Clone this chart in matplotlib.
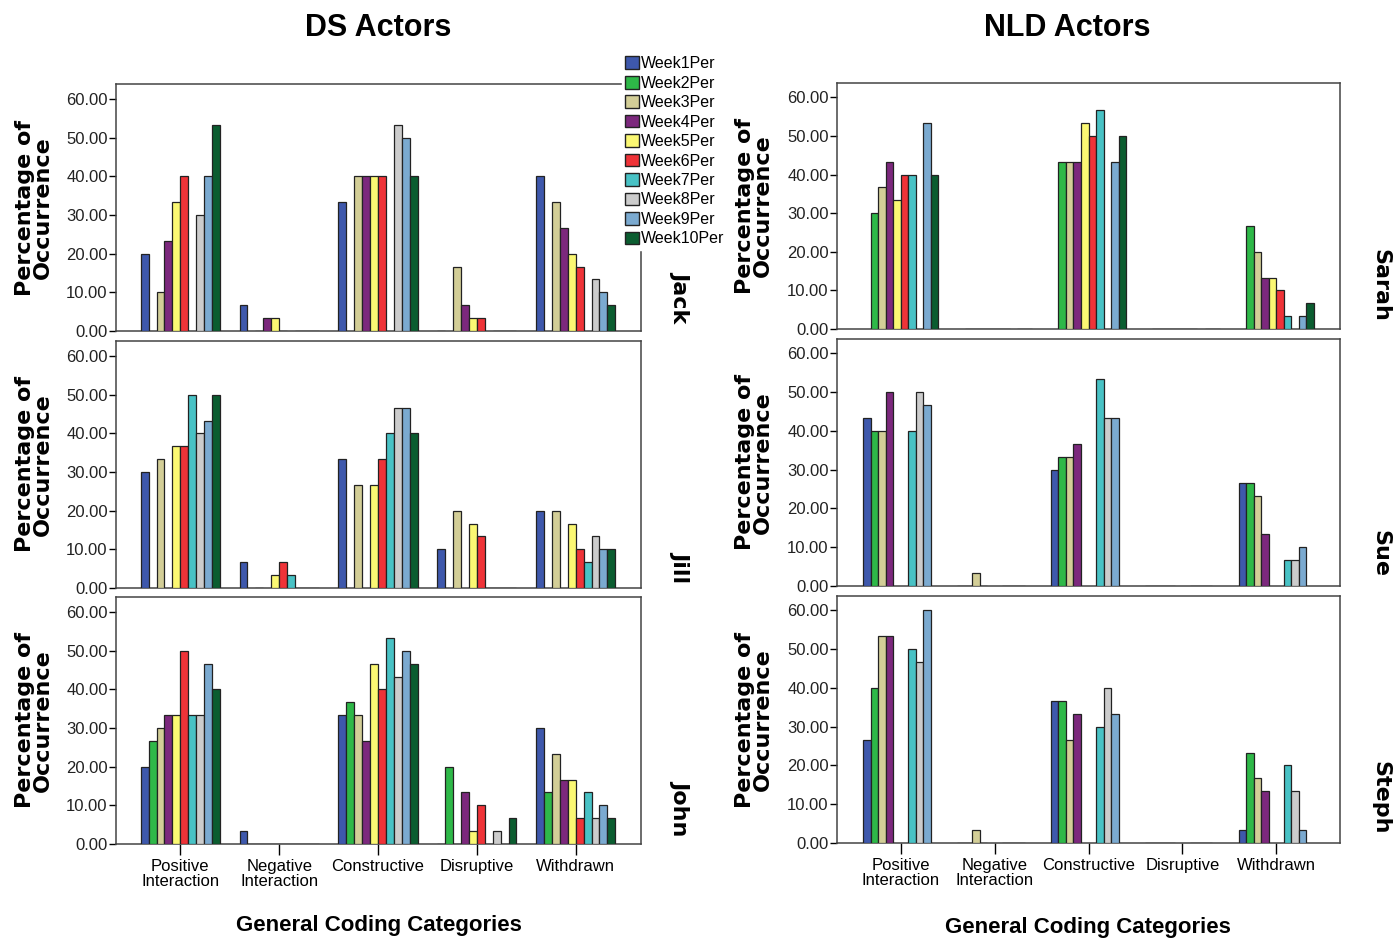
import numpy as np
import matplotlib
matplotlib.use('Agg')
import matplotlib.pyplot as plt
from matplotlib.patches import Patch

nan = np.nan

categories = ['Positive\nInteraction', 'Negative\nInteraction', 'Constructive', 'Disruptive', 'Withdrawn']
weeks = ['Week1Per', 'Week2Per', 'Week3Per', 'Week4Per', 'Week5Per',
         'Week6Per', 'Week7Per', 'Week8Per', 'Week9Per', 'Week10Per']
week_colors = ['#3e58ac', '#2eb848', '#d3ce97', '#7c287d', '#fbf873',
               '#ef3338', '#48c2c5', '#cccccc', '#7baad0', '#0b5d30']

# one row per category, one value per week (nan = week not recorded)
jack = [[20, nan, 10, 23.33, 33.33, 40, nan, 30, 40, 53.33],
        [6.67, nan, 0, 3.33, 3.33, 0, nan, 0, 0, 0],
        [33.33, nan, 40, 40, 40, 40, nan, 53.33, 50, 40],
        [0, nan, 16.67, 6.67, 3.33, 3.33, nan, 0, 0, 0],
        [40, nan, 33.33, 26.67, 20, 16.67, nan, 13.33, 10, 6.67]]
jill = [[30, nan, 33.33, nan, 36.67, 36.67, 50, 40, 43.33, 50],
        [6.67, nan, 0, nan, 3.33, 6.67, 3.33, 0, 0, 0],
        [33.33, nan, 26.67, nan, 26.67, 33.33, 40, 46.67, 46.67, 40],
        [10, nan, 20, nan, 16.67, 13.33, 0, 0, 0, 0],
        [20, nan, 20, nan, 16.67, 10, 6.67, 13.33, 10, 10]]
john = [[20, 26.67, 30, 33.33, 33.33, 50, 33.33, 33.33, 46.67, 40],
        [3.33, 0, 0, 0, 0, 0, 0, 0, 0, 0],
        [33.33, 36.67, 33.33, 26.67, 46.67, 40, 53.33, 43.33, 50, 46.67],
        [0, 20, 0, 13.33, 3.33, 10, 0, 3.33, 0, 6.67],
        [30, 13.33, 23.33, 16.67, 16.67, 6.67, 13.33, 6.67, 10, 6.67]]
sarah = [[nan, 30, 36.67, 43.33, 33.33, 40, 40, nan, 53.33, 40],
         [nan, 0, 0, 0, 0, 0, 0, nan, 0, 0],
         [nan, 43.33, 43.33, 43.33, 53.33, 50, 56.67, nan, 43.33, 50],
         [nan, 0, 0, 0, 0, 0, 0, nan, 0, 0],
         [nan, 26.67, 20, 13.33, 13.33, 10, 3.33, nan, 3.33, 6.67]]
sue = [[43.33, 40, 40, 50, nan, nan, 40, 50, 46.67, nan],
       [0, 0, 3.33, 0, nan, nan, 0, 0, 0, nan],
       [30, 33.33, 33.33, 36.67, nan, nan, 53.33, 43.33, 43.33, nan],
       [0, 0, 0, 0, nan, nan, 0, 0, 0, nan],
       [26.67, 26.67, 23.33, 13.33, nan, nan, 6.67, 6.67, 10, nan]]
steph = [[26.67, 40, 53.33, 53.33, nan, nan, 50, 46.67, 60, nan],
         [0, 0, 3.33, 0, nan, nan, 0, 0, 0, nan],
         [36.67, 36.67, 26.67, 33.33, nan, nan, 30, 40, 33.33, nan],
         [0, 0, 0, 0, nan, nan, 0, 0, 0, nan],
         [3.33, 23.33, 16.67, 13.33, nan, nan, 20, 13.33, 3.33, nan]]

ds_actors = ['Jack', 'Jill', 'John']
nld_actors = ['Sarah', 'Sue', 'Steph']
ds_data = [jack, jill, john]
nld_data = [sarah, sue, steph]

plt.rcParams['font.family'] = ['Liberation Sans', 'DejaVu Sans']

W, H = 1393, 939


def px_axes(fig, x0, y0, x1, y1):
    """Add axes from pixel box (top-left origin)."""
    return fig.add_axes([x0 / W, 1 - y1 / H, (x1 - x0) / W, (y1 - y0) / H])


def draw_panel(ax, data, xlim, ymax, bottom):
    x = np.arange(len(categories))
    bw = 0.08
    for i, color in enumerate(week_colors):
        vals = np.array([row[i] for row in data], dtype=float)
        ok = ~np.isnan(vals)
        ax.bar(x[ok] + (i - 4.5) * bw, vals[ok], width=bw, color=color,
               edgecolor='#222222', linewidth=0.9, zorder=3)
    ax.set_xlim(*xlim)
    ax.set_ylim(0, ymax)
    ax.set_yticks(np.arange(0, 61, 10))
    ax.set_yticklabels(['%.2f' % v for v in np.arange(0, 61, 10)], fontsize=12, color='#222222')
    ax.tick_params(axis='y', direction='out', length=5, width=1, pad=1)
    for s in ax.spines.values():
        s.set_color('#444444')
        s.set_linewidth(1.1)
    if bottom:
        ax.set_xticks(x)
        ax.set_xticklabels(categories, fontsize=12, linespacing=1.0)
        ax.tick_params(axis='x', direction='out', length=8, width=1, pad=3)
    else:
        ax.set_xticks([])


fig = plt.figure(figsize=(W / 100, H / 100), dpi=100)

left_rows = [(84, 331), (341, 588), (597, 844)]
right_rows = [(83, 329), (339, 586), (596, 843)]
label_y_left = [297, 567, 808]
label_y_right = [285, 553, 798]

for k in range(3):
    y0, y1 = left_rows[k]
    ax = px_axes(fig, 116, y0, 641, y1)
    draw_panel(ax, ds_data[k], (-0.65, 4.66), 63.9, k == 2)
    fig.text(34 / W, 1 - ((y0 + y1) / 2) / H, 'Percentage of\nOccurrence', rotation=90,
             ha='center', va='center', fontsize=16, fontweight='bold',
             family='DejaVu Sans', linespacing=0.9)
    fig.text(680 / W, 1 - label_y_left[k] / H, ds_actors[k], rotation=-90,
             ha='center', va='center', fontsize=16, fontweight='bold', family='DejaVu Sans')

    y0, y1 = right_rows[k]
    ax = px_axes(fig, 837, y0, 1340, y1)
    draw_panel(ax, nld_data[k], (-0.68, 4.68), 63.7, k == 2)
    fig.text(754 / W, 1 - ((y0 + y1) / 2) / H, 'Percentage of\nOccurrence', rotation=90,
             ha='center', va='center', fontsize=16, fontweight='bold',
             family='DejaVu Sans', linespacing=0.9)
    fig.text(1380 / W, 1 - label_y_right[k] / H, nld_actors[k], rotation=-90,
             ha='center', va='center', fontsize=16, fontweight='bold', family='DejaVu Sans')

fig.text(378 / W, 1 - 28 / H, 'DS Actors', ha='center', va='center', fontsize=22, fontweight='bold')
fig.text(1067 / W, 1 - 28 / H, 'NLD Actors', ha='center', va='center', fontsize=22, fontweight='bold')
fig.text(379 / W, 1 - 925 / H, 'General Coding Categories', ha='center', va='center',
         fontsize=16, fontweight='bold')
fig.text(1088 / W, 1 - 928 / H, 'General Coding Categories', ha='center', va='center',
         fontsize=16, fontweight='bold')

handles = [Patch(facecolor=c, edgecolor='#222222', linewidth=1) for c in week_colors]
leg = fig.legend(handles, weeks, loc='upper left', bbox_to_anchor=(622 / W, 1 - 53 / H),
                 fontsize=11.5, frameon=True, facecolor='white', edgecolor='white',
                 framealpha=1, handlelength=0.85, handleheight=0.85, handletextpad=0.15,
                 labelspacing=0.28, borderpad=0.2, borderaxespad=0)
leg.set_zorder(10)

fig.savefig('out.png', dpi=100)
